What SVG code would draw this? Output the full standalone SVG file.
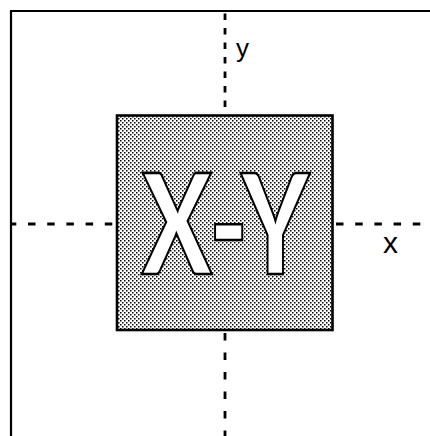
<svg xmlns="http://www.w3.org/2000/svg" width="430" height="436" viewBox="0 0 430 436">
  <defs>
    <pattern id="stipple" width="4" height="4" patternUnits="userSpaceOnUse">
      <rect width="4" height="4" fill="#ffffff"/>
      <rect x="0" y="0" width="1.5" height="1.5" fill="#000000"/>
      <rect x="2" y="2" width="1.5" height="1.5" fill="#000000"/>
    </pattern>
    <style>
      .frame { fill: none; stroke: #000; stroke-width: 2.2; }
      .axis { fill: none; stroke: #000; stroke-width: 2.8; }
      .label { font-family: "Liberation Sans", Arial, sans-serif; fill: #000; }
      .big { font-family: Lato, "Liberation Sans", sans-serif; font-weight: 900; fill: #fff; stroke: #000; stroke-width: 2.6; stroke-linejoin: miter; }
    </style>
  </defs>
  <rect width="430" height="436" fill="#ffffff"/>
  <path class="frame" d="M11,436 V11 H430"/>
  <g id="connectors">
    <line class="axis" x1="225" y1="12" x2="225" y2="115" stroke-dasharray="6.5 8" stroke-dashoffset="-16"/>
    <line class="axis" x1="225" y1="332" x2="225" y2="436" stroke-dasharray="7.5 12" stroke-dashoffset="-1"/>
    <line class="axis" x1="12" y1="224" x2="117" y2="224" stroke-dasharray="7.5 11.7" stroke-dashoffset="-16"/>
    <line class="axis" x1="333" y1="224" x2="430" y2="224" stroke-dasharray="7.5 11.7" stroke-dashoffset="-3"/>
  </g>
  <g id="box">
    <rect x="117" y="115.5" width="215.5" height="214.5" fill="url(#stipple)" stroke="#000" stroke-width="2.6"/>
    <text class="big" x="142" y="274" font-size="140" textLength="167" lengthAdjust="spacingAndGlyphs">X-Y</text>
  </g>
  <g id="label-y">
    <text class="label" x="236" y="57" font-size="26">y</text>
  </g>
  <g id="label-x">
    <text class="label" x="383" y="253" font-size="30">x</text>
  </g>
</svg>
